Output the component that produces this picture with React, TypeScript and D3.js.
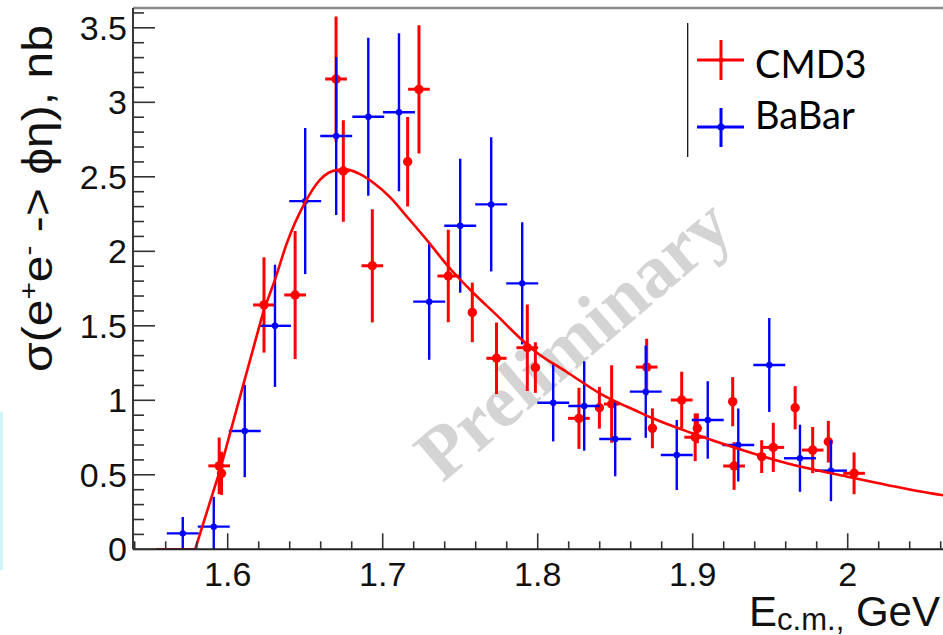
import React from 'react';
import * as d3 from 'd3';

const W = 943;
const H = 635;

// CMD-3 measurements: energy (GeV), cross section (nb), stat. error, energy half-width
const cmd3E = [1.5945, 1.596, 1.6234, 1.6435, 1.6699, 1.6746, 1.6933, 1.7161, 1.7234, 1.7423, 1.7578, 1.7734, 1.7933, 1.7985, 1.8266, 1.8398, 1.8477, 1.8703, 1.874, 1.8929, 1.903, 1.9016, 1.9258, 1.9267, 1.9445, 1.952, 1.9661, 1.9774, 1.9875, 2.0041];
const cmd3Sigma = [0.56, 0.51, 1.64, 1.707, 3.156, 2.539, 1.903, 2.601, 3.087, 1.834, 1.59, 1.282, 1.353, 1.22, 0.879, 0.95, 0.975, 1.223, 0.812, 1.002, 0.812, 0.752, 0.991, 0.559, 0.622, 0.684, 0.95, 0.666, 0.722, 0.51];
const cmd3Err = [0.19, 0.145, 0.32, 0.43, 0.42, 0.34, 0.38, 0.3, 0.43, 0.31, 0.2, 0.24, 0.29, 0.17, 0.205, 0.14, 0.26, 0.19, 0.134, 0.19, 0.1, 0.16, 0.165, 0.16, 0.11, 0.165, 0.145, 0.155, 0.14, 0.14];
const cmd3EErr = [0.007, 0, 0.007, 0.007, 0.007, 0.004, 0.007, 0, 0.007, 0.007, 0, 0.0065, 0.007, 0, 0.007, 0, 0.005, 0.007, 0, 0.007, 0, 0.007, 0, 0.007, 0, 0.007, 0, 0.007, 0, 0.007];

// BaBar measurements: bin centre (GeV), cross section (nb), error; 20 MeV bins
const babarE = [1.571, 1.591, 1.611, 1.6305, 1.65, 1.67, 1.6907, 1.7105, 1.73, 1.75, 1.77, 1.79, 1.81, 1.83, 1.85, 1.8697, 1.8897, 1.9097, 1.9294, 1.9494, 1.9692, 1.9892];
const babarSigma = [0.107, 0.152, 0.794, 1.5, 2.337, 2.774, 2.903, 2.933, 1.662, 2.172, 2.315, 1.785, 0.984, 0.962, 0.74, 1.058, 0.633, 0.868, 0.7, 1.237, 0.611, 0.528];
const babarErr = [0.11, 0.2, 0.31, 0.41, 0.49, 0.53, 0.53, 0.53, 0.39, 0.45, 0.45, 0.41, 0.26, 0.3, 0.25, 0.31, 0.235, 0.26, 0.245, 0.315, 0.225, 0.205];
const babarHalfBin = 0.0103;

// Fit curve sampled along E (threshold part first, then the resonance shape)
const fitE = [1.5544, 1.579, 1.595, 1.611, 1.6234, 1.6305, 1.638, 1.65, 1.6595, 1.67, 1.676, 1.685, 1.694, 1.705, 1.715, 1.7305, 1.7413, 1.7585, 1.7757, 1.7843, 1.797, 1.8187, 1.84, 1.8649, 1.8746, 1.8997, 1.9284, 1.9607, 2.0, 2.0252, 2.0606, 2.075];
const fitSigma = [0, 0, 0.53, 1.14, 1.61, 1.81, 2.05, 2.33, 2.48, 2.545, 2.55, 2.52, 2.46, 2.36, 2.24, 2.05, 1.91, 1.72, 1.55, 1.46, 1.34, 1.19, 1.047, 0.923, 0.878, 0.779, 0.678, 0.577, 0.487, 0.432, 0.364, 0.345];
const fitThresholdCount = 5;

const xMajor = [1.6, 1.7, 1.8, 1.9, 2.0];
const xMajorLabels = ['1.6', '1.7', '1.8', '1.9', '2'];
const yMajor = [0, 0.5, 1, 1.5, 2, 2.5, 3, 3.5];
const yMajorLabels = ['0', '0.5', '1', '1.5', '2', '2.5', '3', '3.5'];

const legendNames = ['CMD3', 'BaBar'];

const RED = '#ff0000';
const BLUE = '#0000ff';
const FONT = '"Liberation Sans", Arial, Helvetica, sans-serif';

const left = 133;
const top = 8;
const bottom = 549.3;

const x = d3.scaleLinear().domain([1.5389, 2.07]).range([left, left + (2.07 - 1.5389) * 1550]);
const y = d3.scaleLinear().domain([0, 3.633]).range([bottom, top]);

const xMinor = d3.range(27).map((i) => 1.54 + i * 0.02).filter((v) => !xMajor.some((m) => Math.abs(m - v) < 1e-6));
const yMinor = d3.range(37).map((i) => i * 0.1).filter((v) => !yMajor.some((m) => Math.abs(m - v) < 1e-6));

const fitIdx = fitE.map((_, i) => i);
const thresholdIdx = fitIdx.slice(0, fitThresholdCount);
const shapeIdx = fitIdx.slice(fitThresholdCount - 1);

const linearFit = d3
  .line<number>()
  .x((i) => x(fitE[i]))
  .y((i) => y(fitSigma[i]))
  .curve(d3.curveLinear);

const smoothFit = d3
  .line<number>()
  .x((i) => x(fitE[i]))
  .y((i) => y(fitSigma[i]))
  .curve(d3.curveMonotoneX);

export default function App() {
  const right = W;
  return (
    <svg
      width={W}
      height={H}
      viewBox={`0 0 ${W} ${H}`}
      style={{ position: 'absolute', left: 0, top: 0, background: '#fff' }}
      fontFamily={FONT}
    >
      <defs>
        <clipPath id="plotArea">
          <rect x={left} y={top} width={right - left} height={bottom - top} />
        </clipPath>
      </defs>
      <rect x={0} y={0} width={W} height={H} fill="#fff" />
      <rect x={0} y={412} width={3} height={158} fill="#d2f5f8" />

      {/* watermark */}
      <text
        transform="translate(578,345) rotate(-40.5)"
        textAnchor="middle"
        fontFamily='"Liberation Serif", "Times New Roman", serif'
        fontWeight="bold"
        fontSize={75}
        fill="#d4d4d4"
        dominantBaseline="middle"
      >
        Preliminary
      </text>

      <g clipPath="url(#plotArea)">
        {/* CMD-3 points */}
        <g stroke={RED} strokeWidth={3} fill={RED}>
          {cmd3E.map((e, i) => (
            <g key={`c${i}`}>
              <line x1={x(e)} x2={x(e)} y1={y(cmd3Sigma[i] - cmd3Err[i])} y2={y(cmd3Sigma[i] + cmd3Err[i])} />
              {cmd3EErr[i] > 0 && (
                <line x1={x(e - cmd3EErr[i])} x2={x(e + cmd3EErr[i])} y1={y(cmd3Sigma[i])} y2={y(cmd3Sigma[i])} />
              )}
              <circle cx={x(e)} cy={y(cmd3Sigma[i])} r={4.7} stroke="none" />
            </g>
          ))}
        </g>
        {/* BaBar points */}
        <g stroke={BLUE} strokeWidth={2.4} fill={BLUE}>
          {babarE.map((e, i) => (
            <g key={`b${i}`}>
              <line x1={x(e)} x2={x(e)} y1={y(babarSigma[i] - babarErr[i])} y2={y(babarSigma[i] + babarErr[i])} />
              <line x1={x(e - babarHalfBin)} x2={x(e + babarHalfBin)} y1={y(babarSigma[i])} y2={y(babarSigma[i])} />
              <circle cx={x(e)} cy={y(babarSigma[i])} r={3.2} stroke="none" />
            </g>
          ))}
        </g>
        {/* fit */}
        <g fill="none" stroke={RED} strokeWidth={2.6} strokeLinejoin="round" strokeLinecap="round">
          <path d={linearFit(thresholdIdx) || ''} />
          <path d={smoothFit(shapeIdx) || ''} />
        </g>
      </g>

      {/* frame and axes */}
      <line x1={left} x2={right} y1={top} y2={top} stroke="#8a8a8a" strokeWidth={2.6} />
      <line x1={left} x2={left} y1={top} y2={bottom} stroke="#222" strokeWidth={1.8} />
      <line x1={left} x2={right} y1={bottom} y2={bottom} stroke="#222" strokeWidth={2} />

      <g stroke="#333" strokeWidth={1.6}>
        {yMajor.map((v) => (
          <line key={`ym${v}`} x1={left} x2={left + 22} y1={y(v)} y2={y(v)} />
        ))}
        {yMinor.map((v) => (
          <line key={`yn${v}`} x1={left} x2={left + 11} y1={y(v)} y2={y(v)} />
        ))}
        {xMajor.map((v) => (
          <line key={`xm${v}`} x1={x(v)} x2={x(v)} y1={bottom} y2={bottom - 16} />
        ))}
        {xMinor.map((v) => (
          <line key={`xn${v}`} x1={x(v)} x2={x(v)} y1={bottom} y2={bottom - 8} />
        ))}
      </g>

      <g fontSize={34} fill="#111">
        {yMajor.map((v, i) => (
          <text key={`yl${v}`} x={127} y={y(v) + 12} textAnchor="end">
            {yMajorLabels[i]}
          </text>
        ))}
        {xMajor.map((v, i) => (
          <text key={`xl${v}`} x={x(v)} y={586} textAnchor="middle">
            {xMajorLabels[i]}
          </text>
        ))}
      </g>

      {/* axis titles */}
      <text
        transform="translate(52,372) rotate(-90)"
        fontSize={42}
        fill="#111"
        textLength={347}
        lengthAdjust="spacingAndGlyphs"
      >
        σ(e<tspan dy={-15} fontSize={26}>+</tspan>
        <tspan dy={15}>e</tspan>
        <tspan dy={-15} fontSize={26}>-</tspan>
        <tspan dy={15}> -&gt; ϕη), nb</tspan>
      </text>
      <text x={940} y={626} textAnchor="end" fontSize={42} fill="#111">
        E<tspan fontSize={31} dy={4}>c.m.,</tspan>
        <tspan dy={-4}> GeV</tspan>
      </text>

      {/* legend */}
      <line x1={687.7} x2={687.7} y1={23} y2={157} stroke="#000" strokeWidth={1.2} />
      <g strokeWidth={3}>
        <line x1={697} x2={744} y1={60} y2={60} stroke={RED} />
        <line x1={721} x2={721} y1={40} y2={80} stroke={RED} />
        <circle cx={721} cy={60} r={2.5} fill={RED} />
        <line x1={697} x2={744} y1={127} y2={127} stroke={BLUE} />
        <line x1={721} x2={721} y1={108} y2={147} stroke={BLUE} />
        <circle cx={721} cy={127} r={3.5} fill={BLUE} />
      </g>
      <g fontFamily='Lato, "Open Sans", sans-serif' fontSize={38} fill="#000">
        <text x={755} y={78}>{legendNames[0]}</text>
        <text x={755} y={129}>{legendNames[1]}</text>
      </g>
    </svg>
  );
}
